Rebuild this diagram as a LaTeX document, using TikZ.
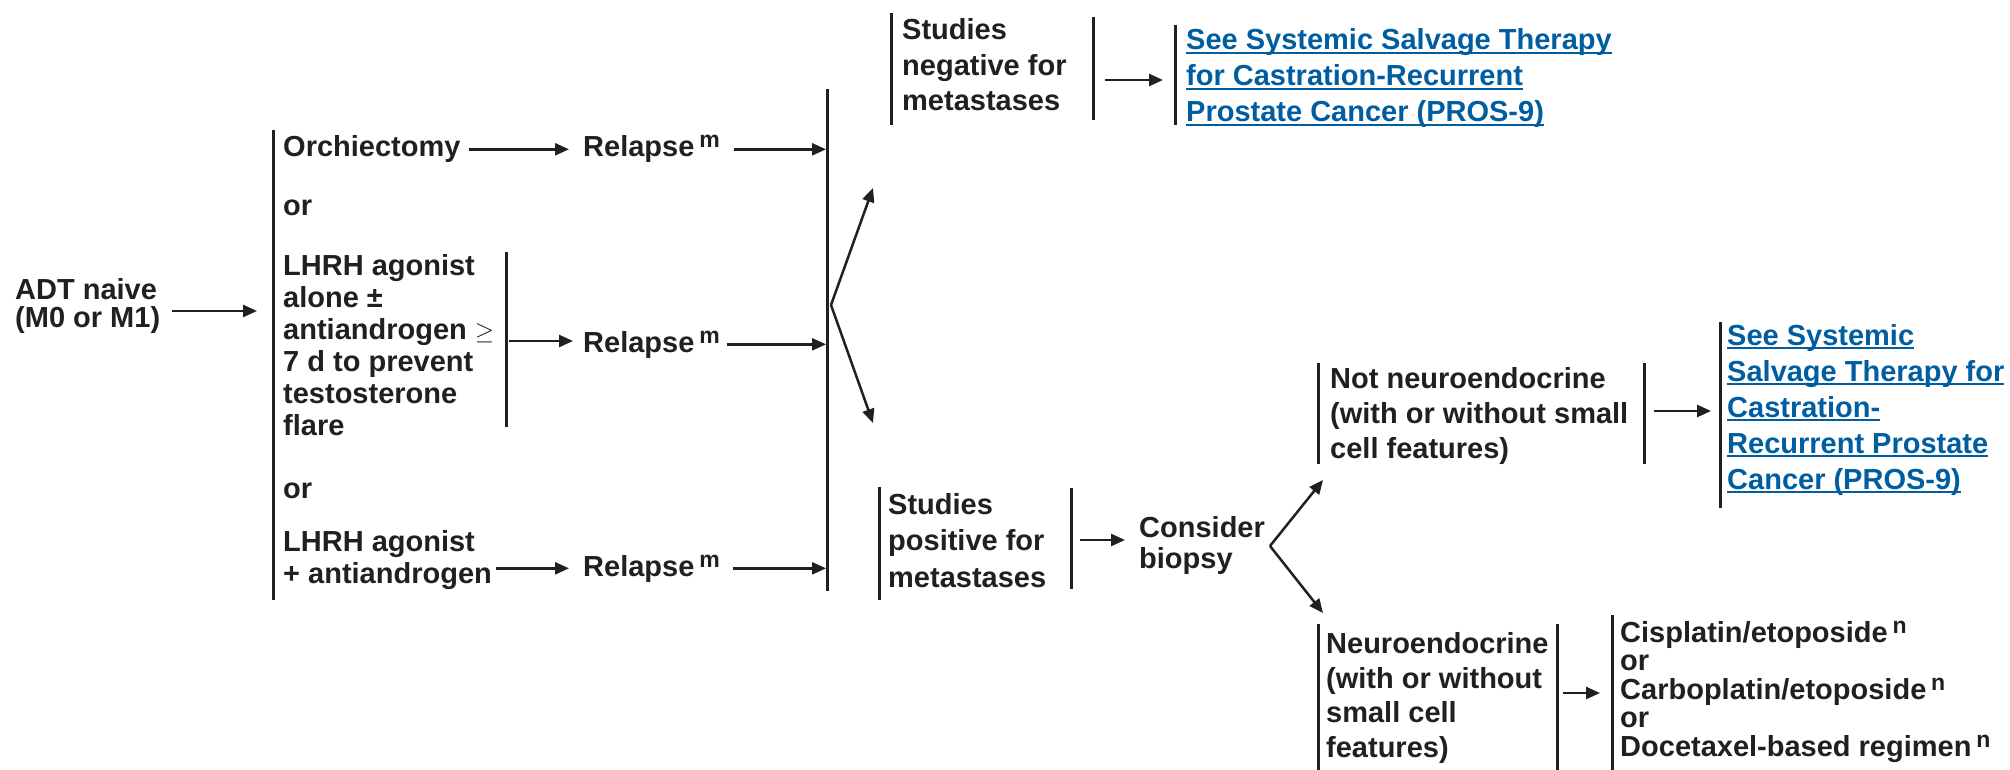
\documentclass[tikz,border=0pt]{standalone}
\usepackage{fontspec}
\setmainfont{Liberation Sans}
\usetikzlibrary{arrows.meta,positioning}

\definecolor{ink}{RGB}{35,31,32}
\definecolor{linkblue}{RGB}{0,94,160}

\newsavebox\linkbox
\newcommand\linkline[1]{\sbox\linkbox{#1}\rlap{\rule[-4pt]{\wd\linkbox}{2pt}}\usebox\linkbox}
\newcommand\supmark[1]{\,\raisebox{9pt}{\fontsize{23}{23}\selectfont #1}}

\begin{document}
\begin{tikzpicture}[x=1pt,y=-1pt,
    txt/.style={anchor=base west,inner sep=0pt,align=left,text=ink,
        font=\fontsize{29}{#1}\selectfont\bfseries},
    txt/.default=32,
    link/.style={txt=#1,text=linkblue},
    bar/.style={draw=ink,line width=3pt},
    arr/.style={ink,line width=2.5pt,-{Triangle[length=14pt,width=12pt]}}]
    \useasboundingbox (0,0) rectangle (2010,770);

    % left column (nodes sit on the baseline of their last line)
    \node[txt=28]   (t_adt)   at (15,327)  {ADT naive\\(M0 or M1)};
    \node[txt]      (t_orch)  at (283,157) {Orchiectomy};
    \node[txt]      (t_or1)   at (283,215) {or};
    \node[txt=32]   (t_lhrh1) at (283,435) {LHRH agonist\\alone ±\\antiandrogen $\geq$\\7 d to prevent\\testosterone\\flare};
    \node[txt]      (t_or2)   at (283,498) {or};
    \node[txt=32]   (t_lhrh2) at (283,583) {LHRH agonist\\+ antiandrogen};
    \node[txt]      (t_rel1)  at (583,157) {Relapse\supmark{m}};
    \node[txt]      (t_rel2)  at (583,352) {Relapse\supmark{m}};
    \node[txt]      (t_rel3)  at (583,576) {Relapse\supmark{m}};

    % upper branch
    \node[txt=35.5] (t_neg)   at (902,111)  {Studies\\negative for\\metastases};
    \node[link=36]  (t_link1) at (1186,122) {\linkline{See Systemic Salvage Therapy}\\\linkline{for Castration-Recurrent}\\\linkline{Prostate Cancer (PROS-9)}};

    % lower branch
    \node[txt=36.5] (t_pos)   at (888,587)  {Studies\\positive for\\metastases};
    \node[txt=31]   (t_cons)  at (1139,568) {Consider\\biopsy};
    \node[txt=35]   (t_nne)   at (1330,458) {Not neuroendocrine\\(with or without small\\cell features)};
    \node[link=36]  (t_link2) at (1727,489) {\linkline{See Systemic}\\\linkline{Salvage Therapy for}\\\linkline{Castration-}\\\linkline{Recurrent Prostate}\\\linkline{Cancer (PROS-9)}};
    \node[txt=34.5] (t_ne)    at (1326,757) {Neuroendocrine\\(with or without\\small cell\\features)};
    \node[txt=28.5] (t_reg)   at (1620,756) {Cisplatin/etoposide\supmark{n}\\or\\Carboplatin/etoposide\supmark{n}\\or\\Docetaxel-based regimen\supmark{n}};

    % bars
    \draw[bar] (273,130) -- (273,600);
    \draw[bar] (506,252) -- (506,427);
    \draw[bar] (827,89) -- (827,591);
    \draw[bar] (891,13) -- (891,125);
    \draw[bar] (1093,17) -- (1093,120);
    \draw[bar] (1175,25) -- (1175,125);
    \draw[bar] (879,487) -- (879,600);
    \draw[bar] (1071,488) -- (1071,589);
    \draw[bar] (1318,363) -- (1318,464);
    \draw[bar] (1644,363) -- (1644,464);
    \draw[bar] (1720,322) -- (1720,508);
    \draw[bar] (1318,624) -- (1318,770);
    \draw[bar] (1557,624) -- (1557,770);
    \draw[bar] (1612,615) -- (1612,770);

    \coordinate (c_adt)  at (257,311);
    \coordinate (c_lhrh) at (506,341);
    \coordinate (c_big)  at (827,89);
    \coordinate (c_neg)  at (1093,80);
    \coordinate (c_pos)  at (1071,540);
    \coordinate (c_nne)  at (1644,411);
    \coordinate (c_ne)   at (1557,693);
    \coordinate (c_f1)   at (831,305);
    \coordinate (c_f1u)  at (873,188);
    \coordinate (c_f1d)  at (873,423);
    \coordinate (c_f2)   at (1270,546);
    \coordinate (c_f2u)  at (1323,480);
    \coordinate (c_f2d)  at (1323,613);

    \path[arr]
        (t_adt.east |- c_adt)   edge[shorten <=12pt]               (c_adt)
        (t_orch.east |- t_rel1) edge[shorten <=8pt,shorten >=14pt] (t_rel1)
        (c_lhrh)                edge[shorten <=3pt,shorten >=10pt] (c_lhrh -| t_rel2.west)
        (t_lhrh2.east |- t_rel3) edge[shorten <=4pt,shorten >=14pt] (t_rel3)
        (t_rel1) edge[shorten <=14pt,shorten >=1pt] (t_rel1 -| c_big)
        (t_rel2) edge[shorten <=7pt,shorten >=1pt]  (t_rel2 -| c_big)
        (t_rel3) edge[shorten <=13pt,shorten >=1pt] (t_rel3 -| c_big)
        (c_f1) edge (c_f1u)
        (c_f1) edge (c_f1d)
        (c_neg) edge[shorten <=12pt,shorten >=23pt] (c_neg -| t_link1.west)
        (c_pos) edge[shorten <=9pt,shorten >=14pt]  (c_pos -| t_cons.west)
        (c_f2) edge (c_f2u)
        (c_f2) edge (c_f2d)
        (c_nne) edge[shorten <=10pt,shorten >=16pt] (c_nne -| t_link2.west)
        (c_ne)  edge[shorten <=6pt,shorten >=20pt]  (c_ne -| t_reg.west);
\end{tikzpicture}
\end{document}
